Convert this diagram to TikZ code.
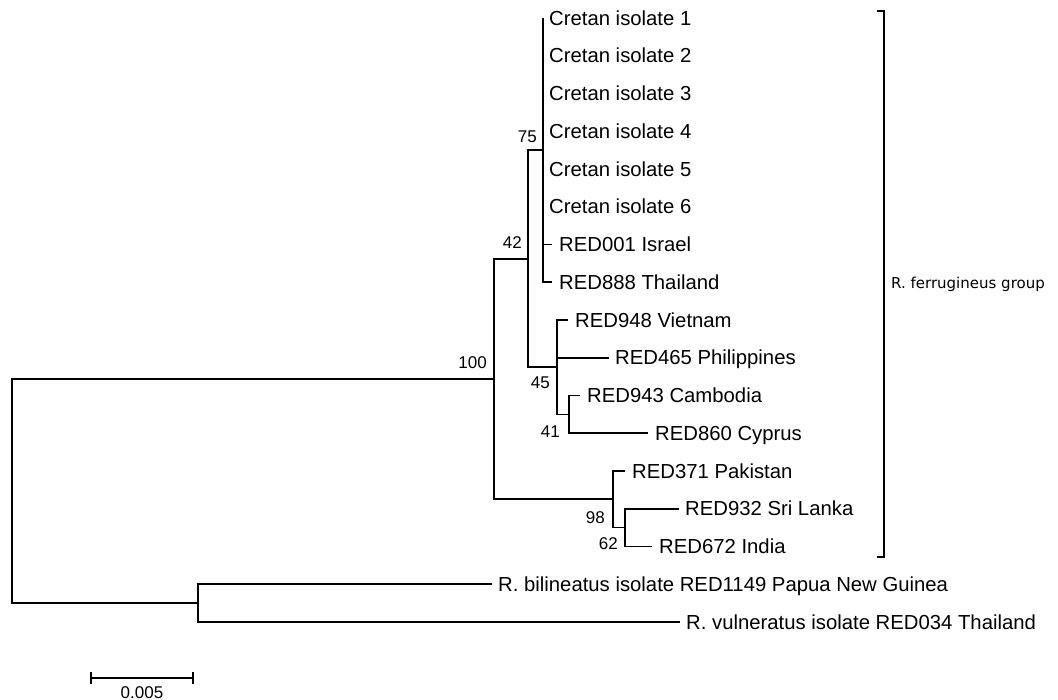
\documentclass[tikz,border=0pt]{standalone}
\usepackage{fontspec}
\setmainfont{Liberation Sans}
\newfontfamily\grpfont{DejaVu Sans}
\begin{document}
\begin{tikzpicture}[x=1pt,y=-1pt,
  branch/.style={draw=black,line width=1.7pt},
  taxon/.style={anchor=base west,inner sep=0pt,yshift=-7.2pt,font=\fontsize{20.3}{22}\selectfont},
  support/.style={anchor=base east,inner sep=0pt,font=\fontsize{17}{19}\selectfont},
  grplabel/.style={anchor=base west,inner sep=0pt,font=\grpfont\fontsize{15}{17}\selectfont}]
\useasboundingbox (0,0) rectangle (1058,700);
% tips
\coordinate (c1) at (543,18);
\coordinate (c2) at (543,55.75);
\coordinate (c3) at (543,93.5);
\coordinate (c4) at (543,131.25);
\coordinate (c5) at (543,169);
\coordinate (c6) at (543,206.75);
\coordinate (r001) at (552,244.5);
\coordinate (r888) at (552,282.25);
\coordinate (r948) at (568,320);
\coordinate (r465) at (609,357.75);
\coordinate (r943) at (580,395.5);
\coordinate (r860) at (648,433.25);
\coordinate (r371) at (625,471);
\coordinate (r932) at (679,508.75);
\coordinate (r672) at (652,546.5);
\coordinate (bil) at (492,584.25);
\coordinate (vul) at (680,622);
% internal nodes
\coordinate (n75) at (543,150.1);
\coordinate (n41) at (569,414.4);
\coordinate (n45) at (557,367.2);
\coordinate (n42) at (528,258.7);
\coordinate (n62) at (625,527.6);
\coordinate (n98) at (613,499.3);
\coordinate (n100) at (494,379);
\coordinate (nout) at (198,603.1);
\coordinate (root) at (12,491);
% branches
\foreach \t in {c1,c2,c3,c4,c5,c6,r001,r888} \draw[branch] (n75) |- (\t);
\foreach \t in {r943,r860} \draw[branch] (n41) |- (\t);
\foreach \t in {r948,r465,n41} \draw[branch] (n45) |- (\t);
\foreach \t in {n75,n45} \draw[branch] (n42) |- (\t);
\foreach \t in {r932,r672} \draw[branch] (n62) |- (\t);
\foreach \t in {r371,n62} \draw[branch] (n98) |- (\t);
\foreach \t in {n42,n98} \draw[branch] (n100) |- (\t);
\foreach \t in {bil,vul} \draw[branch] (nout) |- (\t);
\foreach \t in {n100,nout} \draw[branch] (root) |- (\t);
% taxon labels
\node[taxon] (Lc1) at (549,18) {Cretan isolate 1};
\node[taxon] (Lc2) at (549,55.75) {Cretan isolate 2};
\node[taxon] (Lc3) at (549,93.5) {Cretan isolate 3};
\node[taxon] (Lc4) at (549,131.25) {Cretan isolate 4};
\node[taxon] (Lc5) at (549,169) {Cretan isolate 5};
\node[taxon] (Lc6) at (549,206.75) {Cretan isolate 6};
\node[taxon] (L001) at (559,244.5) {RED001 Israel};
\node[taxon] (L888) at (559,282.25) {RED888 Thailand};
\node[taxon] (L948) at (575,320) {RED948 Vietnam};
\node[taxon] (L465) at (615,357.75) {RED465 Philippines};
\node[taxon] (L943) at (587,395.5) {RED943 Cambodia};
\node[taxon] (L860) at (655,433.25) {RED860 Cyprus};
\node[taxon] (L371) at (632,471) {RED371 Pakistan};
\node[taxon] (L932) at (685,508.75) {RED932 Sri Lanka};
\node[taxon] (L672) at (659,546.5) {RED672 India};
\node[taxon] (Lbil) at (498,584.25) {R. bilineatus isolate RED1149 Papua New Guinea};
\node[taxon] (Lvul) at (686,622) {R. vulneratus isolate RED034 Thailand};
% support values
\node[support] (s75) at (537,143) {75};
\node[support] (s42) at (522,249) {42};
\node[support] (s100) at (487,369) {100};
\node[support] (s45) at (550,389) {45};
\node[support] (s41) at (560,438) {41};
\node[support] (s98) at (605,523) {98};
\node[support] (s62) at (618,549) {62};
% group bracket
\coordinate (bt) at (877,11);
\coordinate (bb) at (877,557);
\draw[branch] (bt) -- ++(7,0) -- ++(0,546) -- (bb);
\node[grplabel] (grp) at (891,288.5) {R. ferrugineus group};
% scale bar
\coordinate (sbl) at (91,678);
\coordinate (sbr) at (193,678);
\draw[branch] (sbl) -- (sbr);
\draw[branch] ([yshift=6pt]sbl) -- ([yshift=-6pt]sbl);
\draw[branch] ([yshift=6pt]sbr) -- ([yshift=-6pt]sbr);
\node[anchor=base,inner sep=0pt,font=\fontsize{17}{19}\selectfont] (sblab) at (142,698) {0.005};
\end{tikzpicture}
\end{document}
